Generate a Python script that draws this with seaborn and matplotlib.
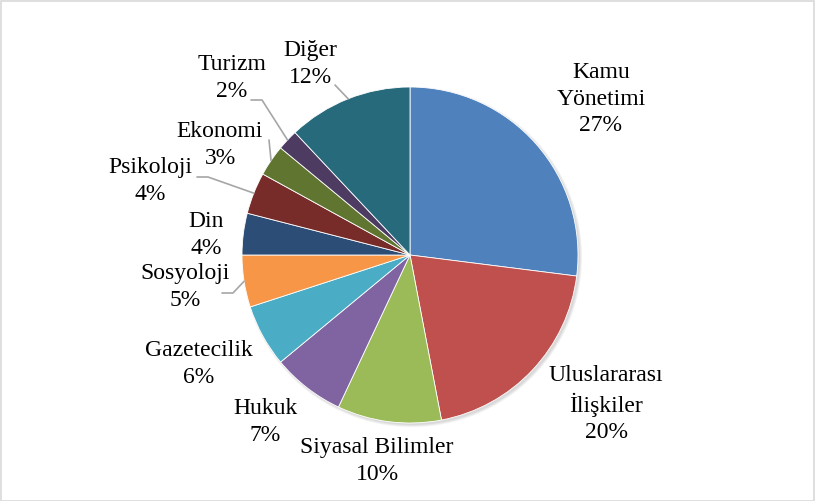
import matplotlib
matplotlib.use("Agg")
import matplotlib.pyplot as plt
import seaborn as sns
import numpy as np
from matplotlib.patches import Rectangle, Circle

# data
fields = ["Kamu\nYönetimi", "Uluslararası\nİlişkiler", "Siyasal Bilimler", "Hukuk",
          "Gazetecilik", "Sosyoloji", "Din", "Psikoloji", "Ekonomi", "Turizm", "Diğer"]
shares = [27, 20, 10, 7, 6, 5, 4, 4, 3, 2, 12]

colors = sns.color_palette(["#4F81BD", "#C0504D", "#9BBB59", "#8064A2", "#4BACC6", "#F79646",
                            "#2C4D75", "#772C2A", "#5F7530", "#4D3B62", "#276A7C"])

W, H = 815, 501
cx, cy, R = 410, 255, 168

# label centres in pixel coords (top-left origin)
label_pos = [(601, 99), (606, 404), (377, 461), (265, 422), (199, 364), (185, 287),
             (206, 235), (150, 181), (220, 145), (232, 78), (310, 64)]
# leader lines: label index -> points from the label side before reaching the slice
leaders = {9: [(251, 100), (262, 100)], 8: [(269, 140)], 7: [(197, 177), (208, 177)],
           5: [(222, 293), (233, 293)], 10: [(335, 85)]}

sns.set_theme(style="white")
plt.rcParams['font.family'] = ['Liberation Serif', 'DejaVu Serif']

fig = plt.figure(figsize=(W / 100, H / 100), dpi=100)
ax = fig.add_axes([0, 0, 1, 1])

def px(x, y):
    return x, H - y

# soft shadow
for k, a in enumerate([0.10, 0.10, 0.12]):
    ax.add_patch(Circle(px(cx + 2, cy + 2), R + 2 - k, color='#808080', alpha=a, lw=0, zorder=0))

wedges, _ = ax.pie(shares, colors=colors, startangle=90, counterclock=False,
                   center=px(cx, cy), radius=R, frame=True,
                   wedgeprops=dict(edgecolor='white', linewidth=0.6))
for w in wedges:
    w.set_zorder(2)

ax.set_xlim(0, W)
ax.set_ylim(0, H)
ax.set_aspect('equal')
ax.axis('off')

for i, (name, s) in enumerate(zip(fields, shares)):
    x, y = px(*label_pos[i])
    ax.text(x, y, f"{name}\n{s}%", ha='center', va='center', fontsize=17,
            linespacing=1.35, color='black', zorder=5)
    if i in leaders:
        w = wedges[i]
        mid = np.deg2rad((w.theta1 + w.theta2) / 2)
        ex, ey = cx + R * np.cos(mid), cy - R * np.sin(mid)
        pts = leaders[i] + [(ex, ey)]
        xs = [p[0] for p in pts]
        ys = [H - p[1] for p in pts]
        ax.plot(xs, ys, color='#a6a6a6', lw=1.2, zorder=3)

fig.patches.append(Rectangle((0.5 / W, 0.5 / H), 1 - 1.5 / W, 1 - 1.5 / H, transform=fig.transFigure,
                             fill=False, edgecolor='#d9d9d9', lw=1.2))

fig.savefig("out.png", dpi=100, facecolor='white')
